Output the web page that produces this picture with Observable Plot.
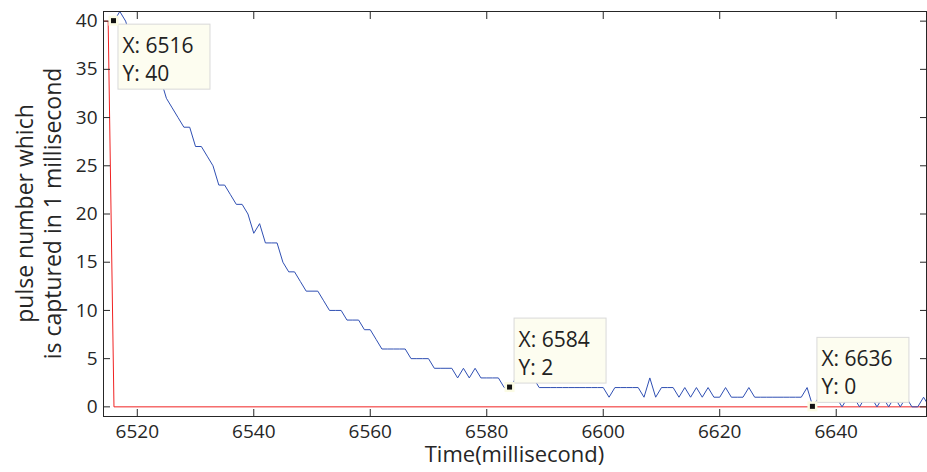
<!DOCTYPE html>
<html><head><meta charset="utf-8">
<script src="https://cdn.jsdelivr.net/npm/d3@7"></script>
<script src="https://cdn.jsdelivr.net/npm/@observablehq/plot@0.6"></script>
<style>
html,body{margin:0;padding:0;background:#fff;}
</style>
</head><body><div id="chart"></div>
<script>
// ---- data ----
const startTime = 6516; // first millisecond of the blue series
const blueValues = [
  40,41,40,38,37,36,35,35,34,32,
  31,30,29,29,27,27,26,25,23,23,
  22,21,21,20,18,19,17,17,17,15,
  14,14,13,12,12,12,11,10,10,10,
  9,9,9,8,8,7,6,6,6,6,
  6,5,5,5,5,4,4,4,4,3,
  4,3,4,3,3,3,3,2,2,3,
  3,3,3,2,2,2,2,2,2,2,
  2,2,2,2,2,1,2,2,2,2,
  2,1,3,1,2,2,2,1,2,1,
  2,1,2,1,1,2,1,1,1,2,
  1,1,1,1,1,1,1,1,1,2,
  0,1,1,1,1,0,1,1,0,1,
  1,0,1,0,1,0,1,0,0,1,0
];
const redTimes = [6514, 6515, 6516, 6656];
const redValues = [40, 40, 0, 0];
const xTicks = [6520, 6540, 6560, 6580, 6600, 6620, 6640];
const yTicks = [0, 5, 10, 15, 20, 25, 30, 35, 40];
const xDomain = [6514.2, 6655.5];
const yDomain = [-1, 41];
const tipTimes = [6516, 6584, 6636];
const tipValues = [40, 2, 0];
const tipSides = ["below", "above", "above"];
const xLabel = "Time(millisecond)";
const yLabelLines = ["pulse number which", "is captured in 1 millisecond"];

const blue = blueValues.map((v, i) => ({t: startTime + i, v}));
const red = redTimes.map((t, i) => ({t, v: redValues[i]}));
const FONT = "'Open Sans', sans-serif";

function tipsMark(index, scales, values, dims) {
  const g = d3.create("svg:g").attr("text-anchor", "start");
  tipTimes.forEach((t, i) => {
    const px = scales.x(t), py = scales.y(tipValues[i]);
    const w = 92, h = 65;
    const bx = px + 4;
    const by = tipSides[i] === "below" ? py + 3 : py - 4.5 - h;
    g.append("rect").attr("x", bx + 0.5).attr("y", by + 0.5).attr("width", w).attr("height", h)
      .attr("fill", "#fdfdf0").attr("stroke", "#d9d9d9");
    g.append("text").attr("x", bx + 5).attr("y", by + 29).attr("font-size", 21)
      .attr("text-anchor", "start").attr("font-family", FONT).attr("fill", "#222").text("X: " + t);
    g.append("text").attr("x", bx + 5).attr("y", by + 57).attr("font-size", 21)
      .attr("text-anchor", "start").attr("font-family", FONT).attr("fill", "#222").text("Y: " + tipValues[i]);
    g.append("rect").attr("x", px - 5).attr("y", py - 5).attr("width", 10).attr("height", 10)
      .attr("fill", "#fbfbe4");
    g.append("rect").attr("x", px - 2.5).attr("y", py - 2.5).attr("width", 5).attr("height", 5)
      .attr("fill", "#111");
  });
  return g.node();
}

function titlesMark(index, scales, values, dims) {
  const g = d3.create("svg:g").attr("fill", "#262626").attr("font-family", FONT);
  const cx = (dims.marginLeft + dims.width - dims.marginRight) / 2;
  g.append("text").attr("x", cx).attr("y", dims.height - 10)
    .attr("text-anchor", "middle").attr("font-size", 22).text(xLabel);
  const cy = (dims.marginTop + dims.height - dims.marginBottom) / 2;
  yLabelLines.forEach((s, i) => {
    g.append("text").attr("transform", `translate(${25 + 28 * i},${cy}) rotate(-90)`)
      .attr("text-anchor", "middle").attr("dy", "0.35em").attr("font-size", 23).text(s);
  });
  return g.node();
}

const chart = Plot.plot({
  width: 927, height: 472,
  marginLeft: 103, marginRight: 1, marginTop: 11, marginBottom: 56,
  style: {fontFamily: FONT, fontSize: "19px", color: "#262626", background: "#fff"},
  x: {domain: xDomain},
  y: {domain: yDomain},
  marks: [
    Plot.line(red, {x: "t", y: "v", stroke: "#f02222", strokeWidth: 1, clip: true}),
    Plot.line(blue, {x: "t", y: "v", stroke: "#2f4fb3", strokeWidth: 1, clip: true}),
    Plot.frame({stroke: "#262626"}),
    Plot.axisX(xTicks, {anchor: "bottom", tickSize: -7, tickPadding: 15, tickFormat: "d", label: null}),
    Plot.axisX(xTicks, {anchor: "top", tickSize: -7, tickFormat: () => "", label: null}),
    Plot.axisY(yTicks, {anchor: "left", tickSize: -7, tickPadding: 13, tickFormat: "d", label: null}),
    Plot.axisY(yTicks, {anchor: "right", tickSize: -7, tickFormat: () => "", label: null}),
    tipsMark,
    titlesMark
  ]
});
document.getElementById("chart").appendChild(chart);
</script>
</body></html>
